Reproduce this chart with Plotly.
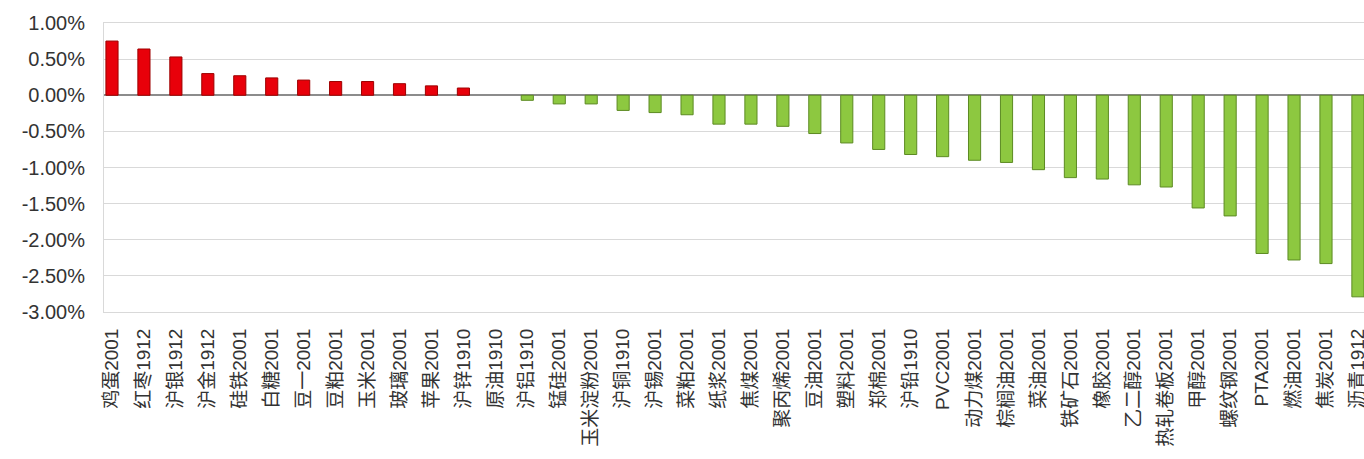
import plotly.graph_objects as go

categories = ["鸡蛋2001", "红枣1912", "沪银1912", "沪金1912", "硅铁2001", "白糖2001", "豆一2001",
              "豆粕2001", "玉米2001", "玻璃2001", "苹果2001", "沪锌1910", "原油1910", "沪铝1910",
              "锰硅2001", "玉米淀粉2001", "沪铜1910", "沪锡2001", "菜粕2001", "纸浆2001", "焦煤2001",
              "聚丙烯2001", "豆油2001", "塑料2001", "郑棉2001", "沪铅1910", "PVC2001", "动力煤2001",
              "棕榈油2001", "菜油2001", "铁矿石2001", "橡胶2001", "乙二醇2001", "热轧卷板2001",
              "甲醇2001", "螺纹钢2001", "PTA2001", "燃油2001", "焦炭2001", "沥青1912"]

# percent change (%)
values = [0.75, 0.64, 0.53, 0.30, 0.27, 0.24, 0.21, 0.19, 0.19, 0.16, 0.13, 0.10, 0.00, -0.07,
          -0.12, -0.12, -0.21, -0.24, -0.27, -0.40, -0.40, -0.43, -0.53, -0.66, -0.75, -0.82,
          -0.85, -0.90, -0.93, -1.03, -1.14, -1.16, -1.24, -1.27, -1.56, -1.67, -2.19, -2.28,
          -2.33, -2.79]

tick_vals = [1.0, 0.5, 0.0, -0.5, -1.0, -1.5, -2.0, -2.5, -3.0]
tick_text = ["1.00%", "0.50%", "0.00%", "-0.50%", "-1.00%", "-1.50%", "-2.00%", "-2.50%", "-3.00%"]

RED, RED_EDGE = "#E8000A", "#9E0000"
GREEN, GREEN_EDGE = "#8DC840", "#5C8A22"
fill = [RED if v > 0 else GREEN for v in values]
edge = [RED_EDGE if v > 0 else GREEN_EDGE for v in values]
edge_w = [1 if v != 0 else 0 for v in values]

font_family = "Liberation Sans, Arial, Noto Sans CJK SC, sans-serif"

fig = go.Figure(go.Bar(
    x=list(range(len(categories))),
    y=values,
    width=0.38,
    marker=dict(color=fill, line=dict(color=edge, width=edge_w)),
    hovertext=categories,
))

fig.update_layout(
    width=1364, height=459,
    margin=dict(l=104, r=0, t=23, b=147, autoexpand=False),
    paper_bgcolor="white", plot_bgcolor="white",
    showlegend=False,
    font=dict(family=font_family, size=18, color="#333333"),
    xaxis=dict(
        range=[-0.25, 39.19],
        tickmode="array",
        tickvals=list(range(len(categories))),
        ticktext=categories,
        tickangle=-90,
        ticks="",
        ticklabelstandoff=8,
        ticklabeloverflow="allow",
        showgrid=False,
        showline=True, linecolor="#D9D9D9", linewidth=1, mirror=True,
        tickfont=dict(size=19, color="#333333"),
        zeroline=False,
        automargin=False,
    ),
    yaxis=dict(
        range=[-3.0, 1.0],
        tickmode="array",
        tickvals=tick_vals,
        ticktext=tick_text,
        ticks="",
        ticklabelstandoff=14,
        showgrid=True, gridcolor="#D9D9D9", gridwidth=1,
        showline=True, linecolor="#D9D9D9", linewidth=1,
        zeroline=True, zerolinecolor="#8C8C8C", zerolinewidth=2,
        tickfont=dict(size=20, color="#333333"),
        automargin=False,
    ),
)

# remove the page's default body margin so the figure fills the window exactly
fig.write_html(
    "out.html",
    config={"displayModeBar": False},
    post_script="document.body.style.margin='0';document.body.style.overflow='hidden';",
)
